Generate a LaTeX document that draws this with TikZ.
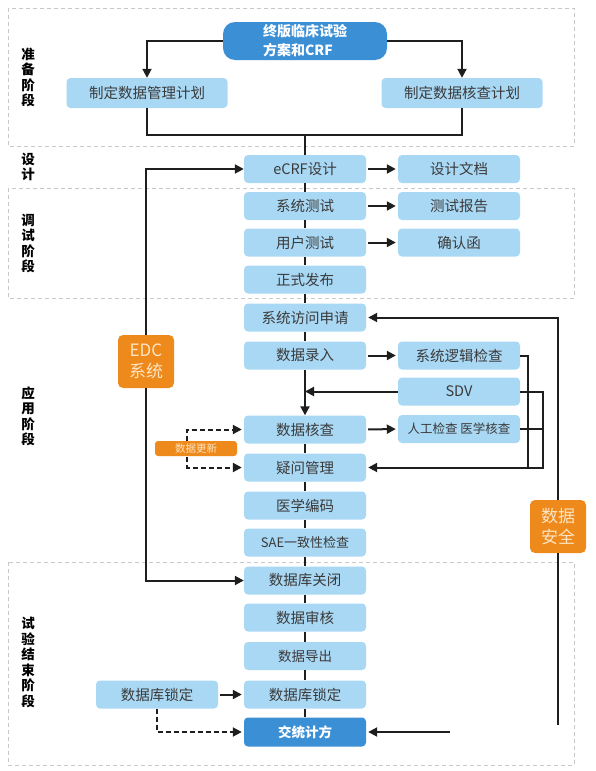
\documentclass[tikz,border=0pt]{standalone}
\usepackage{fontspec}
\setmainfont{Noto Sans CJK SC}
\usetikzlibrary{arrows.meta}
\definecolor{lb}{HTML}{A9D8F4}
\definecolor{db}{HTML}{3B8FD5}
\definecolor{og}{HTML}{EE8A1C}
\definecolor{cr}{HTML}{FDE4C4}
\definecolor{tx}{HTML}{3A3A3A}
\definecolor{ln}{HTML}{1E1E1E}
\definecolor{gd}{HTML}{C8C8C8}
\begin{document}
\begin{tikzpicture}[x=1pt,y=-1pt,
  box/.style={fill=lb, rounded corners=4pt, minimum width=122pt, minimum height=28pt, inner sep=0pt, text=tx, font=\fontsize{14.5}{17}\selectfont},
  dbox/.style={fill=db, rounded corners=4pt, minimum width=122pt, minimum height=29pt, inner sep=0pt, text=white, font=\fontsize{13.5}{16}\selectfont\bfseries},
  topbox/.style={fill=db, rounded corners=12pt, minimum width=164pt, minimum height=38pt, inner sep=0pt, text=white, align=left, font=\fontsize{14}{19}\selectfont\bfseries},
  obox/.style={fill=og, rounded corners=5pt, minimum width=56pt, minimum height=53pt, inner sep=0pt, text=cr, align=center, font=\fontsize{17}{21}\selectfont},
  stg/.style={align=center, text=black, font=\fontsize{13.5}{15.5}\selectfont\bfseries},
  stagebox/.style={draw=gd, line width=0.9pt, dash pattern=on 4pt off 3pt},
  conn/.style={draw=ln, line width=2pt},
  arr/.style={conn, -{Triangle[length=9pt,width=9pt]}},
  darr/.style={draw=ln, line width=2pt, dash pattern=on 5pt off 3pt, -{Triangle[length=9pt,width=9pt]}}
]
\useasboundingbox (0,0) rectangle (596,771);
% stage frames
\draw[stagebox] (8,8) rectangle (574,146);
\draw[stagebox] (8,188) rectangle (574,298);
\draw[stagebox] (8,562) rectangle (574,765);
% stage labels
\node[stg] (s1) at (28,77.5) {准\\备\\阶\\段};
\node[stg] (s2) at (28,167) {设\\计};
\node[stg] (s3) at (28,243.5) {调\\试\\阶\\段};
\node[stg] (s4) at (28,416.5) {应\\用\\阶\\段};
\node[stg] (s5) at (28,662.5) {试\\验\\结\\束\\阶\\段};
% nodes
\node[topbox] (t) at (305,41) {终版临床试验\\方案和CRF};
\node[box, minimum width=161pt, minimum height=30pt] (p1) at (147,93) {制定数据管理计划};
\node[box, minimum width=161pt, minimum height=30pt] (p2) at (462,93) {制定数据核查计划};
\node[box] (ecrf) at (305,169) {eCRF设计};
\node[box] (doc) at (459,169) {设计文档};
\node[box] (st) at (305,206) {系统测试};
\node[box] (rep) at (459,206) {测试报告};
\node[box] (ut) at (305,242.5) {用户测试};
\node[box] (conf) at (459,242.5) {确认函};
\node[box] (rel) at (305,279.5) {正式发布};
\node[box] (acc) at (305,317.5) {系统访问申请};
\node[box] (ent) at (305,355.5) {数据录入};
\node[box] (logic) at (459,355.5) {系统逻辑检查};
\node[box] (sdv) at (459,391.5) {SDV};
\node[box] (chk) at (305,429.5) {数据核查};
\node[box, font=\fontsize{12.5}{15}\selectfont] (man) at (459,429) {人工检查 医学核查};
\node[box] (qry) at (305,467.5) {疑问管理};
\node[box] (code) at (305,505.5) {医学编码};
\node[box, font=\fontsize{13}{15}\selectfont] (sae) at (305,542.5) {SAE一致性检查};
\node[box] (close) at (305,580.5) {数据库关闭};
\node[box] (rev) at (305,617.5) {数据审核};
\node[box, font=\fontsize{13.5}{16}\selectfont] (exp) at (305,656) {数据导出};
\node[box] (lockL) at (157,694.5) {数据库锁定};
\node[box] (lock) at (305,694.5) {数据库锁定};
\node[dbox] (del) at (305,732) {交统计方};
\node[obox] (edc) at (146,361.5) {EDC\\系统};
\node[obox] (safe) at (558,526.5) {数据\\安全};
% top connectors
\draw[arr] (t.west) -| (p1.north);
\draw[arr] (t.east) -| (p2.north);
\coordinate (j) at (305,135);
\draw[conn] (p1.south) |- (j) -| (p2.south);
\draw[conn] (j) -- (ecrf.north);
% central column
\draw[conn] (ecrf.south) -- (st.north);
\draw[conn] (st.south) -- (ut.north);
\draw[conn] (ut.south) -- (rel.north);
\draw[conn] (rel.south) -- (acc.north);
\draw[conn] (acc.south) -- (ent.north);
\draw[arr] (ent.south) -- (chk.north);
\draw[conn] (chk.south) -- (qry.north);
\draw[conn] (qry.south) -- (code.north);
\draw[conn] (code.south) -- (sae.north);
\draw[conn] (sae.south) -- (close.north);
\draw[conn] (close.south) -- (rev.north);
\draw[conn] (rev.south) -- (exp.north);
\draw[conn] (exp.south) -- (lock.north);
\draw[conn] (lock.south) -- (del.north);
% side arrows
\draw[arr, shorten <=2pt, shorten >=2pt] (ecrf.east) -- (doc.west);
\draw[arr, shorten <=2pt, shorten >=2pt] (st.east) -- (rep.west);
\draw[arr, shorten <=2pt, shorten >=2pt] (ut.east) -- (conf.west);
\draw[arr, shorten <=2pt, shorten >=2pt] (ent.east) -- (logic.west);
\draw[arr, shorten <=2pt, shorten >=2pt] (chk.east) -- (man.west);
\draw[arr] (sdv.west) -- (sdv.west -| ent.south);
% EDC line
\draw[arr] (edc.north) |- (ecrf.west);
\draw[arr] (edc.south) |- (close.west);
% data security line
\draw[arr, shorten >=2pt] (safe.north) |- (acc.east);
\coordinate (se) at (558,725);
\draw[conn] (safe.south) -- (se);
\coordinate (cs) at (450,732);
\draw[arr, shorten >=2pt] (cs) -- (del.east);
% feedback lines
\coordinate (r1) at (528,467.5);
\coordinate (r2) at (543,467.5);
\draw[conn] (logic.east) -| (r1);
\draw[conn] (man.east) -- (man.east -| r2);
\draw[arr, shorten >=2pt] (sdv.east) -| (r2) -- (qry.east);
% data update dashed
\coordinate (dx) at (187,449);
\draw[darr, shorten >=2pt] (dx) |- (chk.west);
\draw[darr, shorten >=2pt] (dx) |- (qry.west);
\node[fill=og, rounded corners=3pt, minimum width=82pt, minimum height=15pt, inner sep=0pt, text=cr, font=\fontsize{10.5}{12}\selectfont] (upd) at (196,448.5) {数据更新};
% lock arrows
\draw[arr, shorten <=2pt, shorten >=2pt] (lockL.east) -- (lock.west);
\draw[darr, shorten >=2pt] (lockL.south) |- (del.west);
\end{tikzpicture}
\end{document}
